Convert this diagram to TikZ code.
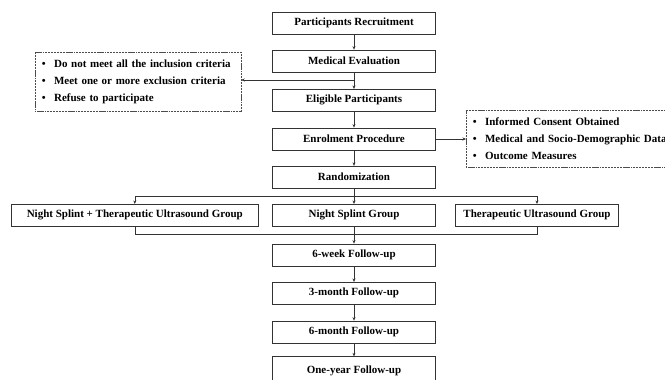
\documentclass[tikz,border=0pt]{standalone}
\usepackage{fontspec}
\setmainfont{Liberation Serif}
\usetikzlibrary{arrows.meta}
\begin{document}
\begin{tikzpicture}[x=1pt,y=-1pt,
  every node/.style={font=\fontsize{11}{17}\selectfont\bfseries},
  flowbox/.style={draw=black!80, line width=0.7pt, rectangle, minimum height=22pt, inner sep=0pt, align=center},
  colbox/.style={flowbox, minimum width=163pt},
  dotbox/.style={draw=black!70, line width=0.5pt, dash pattern=on 1.2pt off 0.8pt on 0.3pt off 0.8pt, rectangle, inner xsep=6.5pt, inner ysep=0pt, align=left},
  conn/.style={draw=black!80, line width=0.6pt},
  arr/.style={conn, -{Stealth[length=3.5pt,width=3pt]}}]
\useasboundingbox (0,0) rectangle (665,380);
\fill[white] (0,0) rectangle (665,380);

\node[colbox] (P) at (354,23) {Participants Recruitment};
\node[colbox] (M) at (354,61) {Medical Evaluation};
\node[colbox] (E) at (354,100.3) {Eligible Participants};
\node[colbox] (N) at (354,139) {Enrolment Procedure};
\node[colbox] (R) at (354,177.2) {Randomization};
\node[flowbox, minimum width=246.3pt] (G1) at (134.8,215.3) {Night Splint + Therapeutic Ultrasound Group};
\node[colbox] (G2) at (354,215.3) {Night Splint Group};
\node[flowbox, minimum width=162.6pt] (G3) at (537,215.3) {Therapeutic Ultrasound Group};
\node[colbox] (W6) at (354,255) {6-week Follow-up};
\node[colbox] (M3) at (354,293.3) {3-month Follow-up};
\node[colbox] (M6) at (354,332) {6-month Follow-up};
\node[colbox, minimum height=27pt, text depth=0pt] (Y1) at (354,370.2) {\raisebox{1.5pt}{One-year Follow-up}};

\node[dotbox, anchor=north west, minimum height=59pt, text width=192.7pt] (X) at (35,51.7)
  {\begin{tabular}{@{}l@{\hspace{8.5pt}}l@{}}
   \textbullet & Do not meet all the inclusion criteria\\
   \textbullet & Meet one or more exclusion criteria\\
   \textbullet & Refuse to participate
   \end{tabular}};
\node[dotbox, anchor=north west, minimum height=57pt, text width=240pt] (C) at (466,110)
  {\begin{tabular}{@{}l@{\hspace{8.5pt}}l@{}}
   \textbullet & Informed Consent Obtained\\
   \textbullet & Medical and Socio-Demographic Data\\
   \textbullet & Outcome Measures
   \end{tabular}};

\draw[arr] (P) -- (M);
\draw[arr] (M) -- (E);
\coordinate (s1) at (354,80);
\draw[arr] (s1) -- (s1 -| X.east);
\draw[arr] (E) -- (N);
\draw[arr] (N.east) -- (C.west |- N.east);
\draw[arr] (N) -- (R);
\coordinate (b1) at (354,196.3);
\draw[conn] (R.south) -- (b1);
\draw[arr] (b1) -| (G1.north);
\draw[arr] (b1) -| (G3.north);
\draw[arr] (b1) -- (G2.north);
\coordinate (b2) at (354,234.6);
\draw[conn] (G1.south) |- (b2) -| (G3.south);
\draw[conn] (G2.south) -- (b2);
\draw[arr] (b2) -- (W6);
\draw[arr] (W6) -- (M3);
\draw[arr] (M3) -- (M6);
\draw[arr] (M6) -- (Y1);
\end{tikzpicture}
\end{document}
